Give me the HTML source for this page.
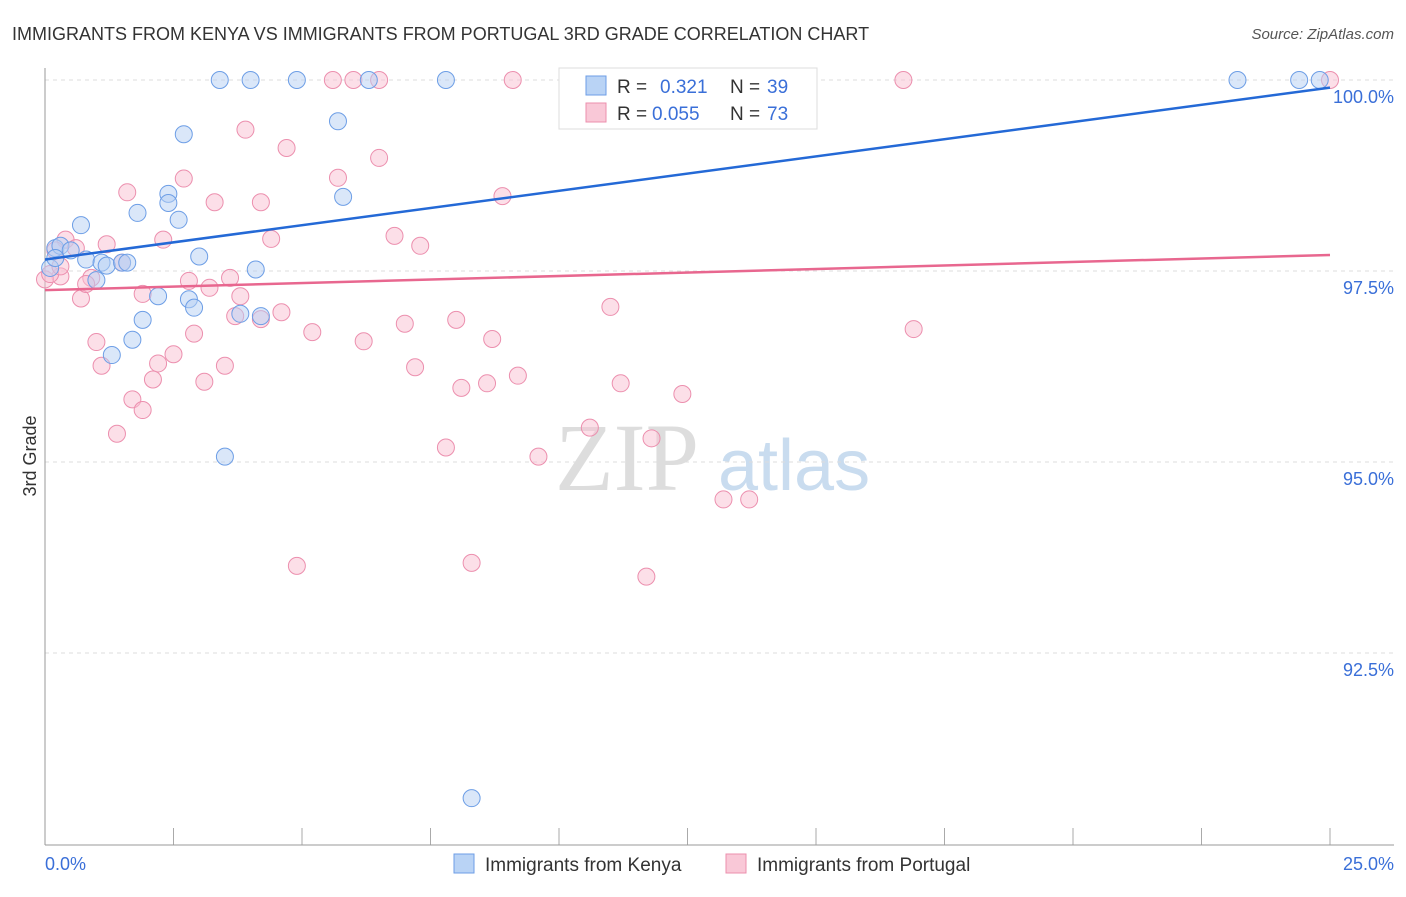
<!DOCTYPE html>
<html><head><meta charset="utf-8"><style>
body{margin:0;background:#fff;font-family:"Liberation Sans",sans-serif}
</style></head><body>
<svg width="1406" height="892" xmlns="http://www.w3.org/2000/svg" font-family="Liberation Sans, sans-serif">
<text x="12" y="40" font-size="18" fill="#333">IMMIGRANTS FROM KENYA VS IMMIGRANTS FROM PORTUGAL 3RD GRADE CORRELATION CHART</text>
<text x="1394" y="39" font-size="15" fill="#555" text-anchor="end" font-style="italic">Source: ZipAtlas.com</text>
<text x="555" y="490" font-size="96" fill="#ddd" font-family="Liberation Serif, serif">ZIP</text>
<text x="718" y="490" font-size="72" fill="#c9dcef">atlas</text>
<g id="grid"></g>
<line x1="45" y1="68" x2="45" y2="845" stroke="#999"/>
<line x1="45" y1="845" x2="1394" y2="845" stroke="#999"/>
<text x="36" y="456" font-size="18" fill="#333" transform="rotate(-90 36 456)" text-anchor="middle">3rd Grade</text>
<text x="45" y="870" font-size="18" fill="#3a6fd8">0.0%</text>
<text x="1394" y="870" font-size="18" fill="#3a6fd8" text-anchor="end">25.0%</text>
<g id="pts"></g>
<g id="lines"></g>
<g>
<rect x="559" y="68" width="258" height="61" fill="#fff" stroke="#ddd"/>
<rect x="586" y="76" width="20" height="19" fill="#b9d3f5" stroke="#6d9ee6"/>
<rect x="586" y="103" width="20" height="19" fill="#f9c8d7" stroke="#ec8fae"/>
<text x="617" y="93" font-size="19" fill="#333">R = </text><text x="660" y="93" font-size="19" fill="#3a6fd8">0.321</text>
<text x="730" y="93" font-size="19" fill="#333">N = </text><text x="767" y="93" font-size="19" fill="#3a6fd8">39</text>
<text x="617" y="120" font-size="19" fill="#333">R = </text><text x="652" y="120" font-size="19" fill="#3a6fd8">0.055</text>
<text x="730" y="120" font-size="19" fill="#333">N = </text><text x="767" y="120" font-size="19" fill="#3a6fd8">73</text>
</g>
<g><rect x="454" y="854" width="20" height="19" fill="#b9d3f5" stroke="#6d9ee6"/><text x="485" y="871" font-size="19" fill="#333">Immigrants from Kenya</text></g>
<g><rect x="726" y="854" width="20" height="19" fill="#f9c8d7" stroke="#ec8fae"/><text x="757" y="871" font-size="19" fill="#333">Immigrants from Portugal</text></g>
</svg>
<script>
const yTicks=[100,97.5,95,92.5];
const yTickLabels=["100.0%","97.5%","95.0%","92.5%"];
const xTicks=[0,2.5,5,7.5,10,12.5,15,17.5,20,22.5,25];
const kenyaX=[3.4,4.0,4.9,6.3,7.8,23.2,24.4,24.8,2.7,5.7,2.4,2.4,1.8,2.6,5.8,0.7,0.2,0.3,0.5,0.8,1.1,1.2,1.5,1.6,3.0,4.1,0.1,1.0,2.2,2.8,2.9,3.8,4.2,1.9,1.7,1.3,3.5,8.3,0.2];
const kenyaY=[100,100,100,100,100,100,100,100,99.29,99.46,98.51,98.39,98.26,98.17,98.47,98.10,97.80,97.83,97.77,97.65,97.61,97.57,97.61,97.61,97.69,97.52,97.54,97.38,97.17,97.13,97.02,96.94,96.91,96.86,96.60,96.40,95.07,90.6,97.67];
const portX=[5.6,6.0,6.5,9.1,14.1,16.7,25.0,3.9,4.7,6.5,5.7,2.7,1.6,8.9,3.3,4.2,2.3,4.4,6.8,7.3,1.2,0.4,0.2,1.5,0.3,0.9,0.0,2.8,3.6,1.9,3.2,3.8,0.7,4.6,3.7,4.2,2.9,5.2,7.0,8.0,11.0,16.9,1.0,6.2,8.7,2.5,2.2,1.1,3.5,7.2,2.1,3.1,9.2,8.1,8.6,11.2,12.4,1.7,1.9,10.6,1.4,11.8,7.8,9.6,13.2,13.7,4.9,8.3,11.7,0.6,0.1,0.3,0.8];
const portY=[100,100,100,100,100,100,100,99.35,99.11,98.98,98.72,98.71,98.53,98.48,98.40,98.40,97.91,97.92,97.96,97.83,97.85,97.91,97.77,97.61,97.43,97.41,97.39,97.37,97.41,97.20,97.28,97.17,97.14,96.96,96.91,96.87,96.68,96.70,96.81,96.86,97.03,96.74,96.57,96.58,96.61,96.41,96.29,96.26,96.26,96.24,96.08,96.05,96.13,95.97,96.03,96.03,95.89,95.82,95.68,95.45,95.37,95.31,95.19,95.07,94.51,94.51,93.64,93.68,93.50,97.80,97.46,97.56,97.33];
const trendKenya=[97.65,99.9];
const trendPort=[97.25,97.71];
function sx(v){return 45+v*51.4;}
function sy(v){return 80+(100-v)*76.4;}
const NS="http://www.w3.org/2000/svg";
const grid=document.getElementById('grid');
yTicks.forEach((t,i)=>{
const l=document.createElementNS(NS,'line');


l.setAttribute('x1',45);l.setAttribute('x2',1394);l.setAttribute('y1',sy(t));l.setAttribute('y2',sy(t));
l.setAttribute('stroke','#ddd');l.setAttribute('stroke-dasharray','4,4');grid.appendChild(l);
const tx=document.createElementNS(NS,'text');


tx.setAttribute('x',1394);tx.setAttribute('y',sy(t)+23);tx.setAttribute('text-anchor','end');
tx.setAttribute('font-size','18');tx.setAttribute('fill','#3a6fd8');tx.textContent=yTickLabels[i];grid.appendChild(tx);
});
xTicks.forEach(t=>{
const l=document.createElementNS(NS,'line');


l.setAttribute('x1',sx(t));l.setAttribute('x2',sx(t));l.setAttribute('y1',828);l.setAttribute('y2',845);
l.setAttribute('stroke','#aaa');grid.appendChild(l);
});
const pts=document.getElementById('pts');
function dots(xs,ys,fill,stroke,name){
xs.forEach((x,i)=>{
const c=document.createElementNS(NS,'circle');


c.setAttribute('cx',sx(x));c.setAttribute('cy',sy(ys[i]));c.setAttribute('r',8.5);
c.setAttribute('fill',fill);c.setAttribute('stroke',stroke);c.setAttribute('fill-opacity','0.5');
pts.appendChild(c);});
}
dots(portX,portY,'#f9c0d2','#ec8fae','portugal-point');
dots(kenyaX,kenyaY,'#b6d0f3','#6d9ee6','kenya-point');
const lines=document.getElementById('lines');
function trend(v,color,name){
const l=document.createElementNS(NS,'line');


l.setAttribute('x1',sx(0));l.setAttribute('x2',sx(25));l.setAttribute('y1',sy(v[0]));l.setAttribute('y2',sy(v[1]));
l.setAttribute('stroke',color);l.setAttribute('stroke-width','2.5');lines.appendChild(l);
}
trend(trendKenya,'#2469d6','kenya-trend-line');
trend(trendPort,'#e8678f','portugal-trend-line');
</script>
</body></html>
